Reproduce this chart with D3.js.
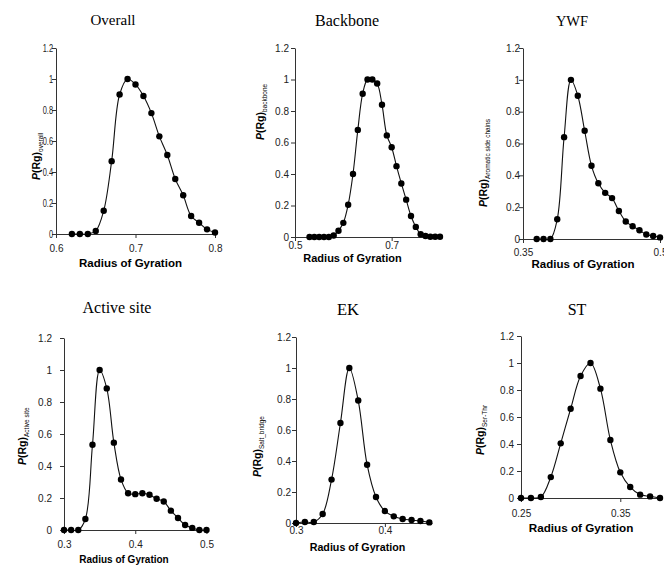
<!DOCTYPE html>
<html>
<head>
<meta charset="utf-8">
<script src="https://cdn.jsdelivr.net/npm/d3@7"></script>
<style>
  body { margin: 0; background: #fff; }
  svg { display: block; }
  .tick text { font-family: "Liberation Sans", Arial, sans-serif; font-size: 10px; fill: #222; }
  .domain, .tick line { stroke: #333; }
</style>
</head>
<body>
<script>
// --- data ---
var overallRg = [0.62,0.63,0.64,0.65,0.66,0.67,0.68,0.69,0.70,0.71,0.72,0.73,0.74,0.75,0.76,0.77,0.78,0.79,0.80];
var overallP  = [0,0,0,0.02,0.15,0.47,0.90,1.0,0.965,0.89,0.78,0.63,0.51,0.355,0.25,0.116,0.073,0.03,0.01];

var backboneRg = [0.53,0.54,0.55,0.56,0.57,0.58,0.59,0.60,0.61,0.62,0.63,0.64,0.65,0.66,0.67,0.68,0.69,0.70,0.71,0.72,0.73,0.74,0.75,0.76,0.77,0.78,0.79,0.80];
var backboneP  = [0,0,0,0,0,0.01,0.04,0.09,0.205,0.40,0.68,0.91,1.0,1.0,0.975,0.84,0.645,0.57,0.45,0.34,0.237,0.133,0.064,0.017,0.006,0.002,0.002,0.002];

var ywfRg = [0.365,0.3725,0.38,0.3875,0.395,0.4025,0.41,0.4175,0.425,0.4325,0.44,0.4475,0.455,0.4625,0.47,0.4775,0.485,0.4925,0.5];
var ywfP  = [0,0,0,0.124,0.64,1.0,0.90,0.68,0.46,0.35,0.29,0.257,0.176,0.11,0.08,0.055,0.028,0.019,0.01];

var activeRg = [0.30,0.31,0.32,0.33,0.34,0.35,0.36,0.37,0.38,0.39,0.40,0.41,0.42,0.43,0.44,0.45,0.46,0.47,0.48,0.49,0.50];
var activeP  = [0,0,0,0.069,0.533,1.0,0.885,0.546,0.316,0.23,0.224,0.23,0.22,0.195,0.178,0.121,0.075,0.031,0.013,0,0];

var ekRg = [0.30,0.31,0.32,0.33,0.34,0.35,0.36,0.37,0.38,0.39,0.40,0.41,0.42,0.43,0.44,0.45];
var ekP  = [0,0.006,0.006,0.058,0.28,0.645,1.0,0.79,0.376,0.168,0.077,0.043,0.026,0.019,0.013,0.004];

var stRg = [0.25,0.26,0.27,0.28,0.29,0.30,0.31,0.32,0.33,0.34,0.35,0.36,0.37,0.38,0.39];
var stP  = [0,0,0.007,0.155,0.405,0.661,0.904,1.0,0.81,0.43,0.19,0.081,0.025,0.012,0];

var yTicks = [0, 0.2, 0.4, 0.6, 0.8, 1, 1.2];
var yTickLabels = ["0", "0.2", "0.4", "0.6", "0.8", "1", "1.2"];

// layout per panel (the six small charts were pasted at slightly different scales)
var panels = [
  { title: "Overall",     sub: "overall",              rg: overallRg,  p: overallP,  xDom: [0.6, 0.8],   xTicks: [0.6, 0.7, 0.8],  xLab: ["0.6", "0.7", "0.8"],
    x0: 56, x1: 215, yTop: 48, yBot: 234, ygap: 3, ysq: 0.74, xoff: 18,
    tx: 113, ty: 25, tfs: 15, lx: 130.5, ly: 267, lfs: 11.5, yx: 40, yy: 180 },
  { title: "Backbone",    sub: "backbone",             rg: backboneRg, p: backboneP, xDom: [0.5, 0.8],   xTicks: [0.5, 0.7],       xLab: ["0.5", "0.7"],
    x0: 295, x1: 440, yTop: 48, yBot: 237, ygap: 6, ysq: 1, xoff: 12,
    tx: 347, ty: 26, tfs: 16, lx: 352.5, ly: 262, lfs: 11, yx: 264, yy: 140 },
  { title: "YWF",         sub: "Aromatic side chains", rg: ywfRg,      p: ywfP,      xDom: [0.35, 0.5],  xTicks: [0.35, 0.5],      xLab: ["0.35", "0.5"],
    x0: 523, x1: 660, yTop: 48, yBot: 239, ygap: 3, ysq: 1, xoff: 17,
    tx: 572, ty: 26, tfs: 14.5, lx: 583, ly: 268, lfs: 11.5, yx: 487, yy: 207 },
  { title: "Active site", sub: "Active site",          rg: activeRg,   p: activeP,   xDom: [0.3, 0.5],   xTicks: [0.3, 0.4, 0.5],  xLab: ["0.3", "0.4", "0.5"],
    x0: 64, x1: 206.5, yTop: 338, yBot: 530, ygap: 12, ysq: 1, xoff: 17.5,
    tx: 117, ty: 313, tfs: 16, lx: 124, ly: 563, lfs: 10, yx: 26, yy: 465 },
  { title: "EK",          sub: "Salt_bridge",          rg: ekRg,       p: ekP,       xDom: [0.3, 0.453], xTicks: [0.3, 0.4],       xLab: ["0.3", "0.4"],
    x0: 296, x1: 432, yTop: 337, yBot: 523, ygap: 5, ysq: 1, xoff: 11,
    tx: 348, ty: 315, tfs: 16.5, lx: 357.5, ly: 550.5, lfs: 10.7, yx: 261, yy: 477 },
  { title: "ST",          sub: "Ser-Thr",              rg: stRg,       p: stP,       xDom: [0.25, 0.392], xTicks: [0.25, 0.35],    xLab: ["0.25", "0.35"],
    x0: 521, x1: 662, yTop: 336, yBot: 498, ygap: 7, ysq: 1, xoff: 18.5,
    tx: 577, ty: 315, tfs: 16, lx: 581, ly: 532, lfs: 11.7, yx: 484, yy: 455 }
];

var svg = d3.select("body").append("svg")
  .attr("width", 664)
  .attr("height", 565);

panels.forEach(function (pn) {
  var x = d3.scaleLinear().domain(pn.xDom).range([pn.x0, pn.x1]);
  var y = d3.scaleLinear().domain([0, 1.2]).range([pn.yBot, pn.yTop]);
  var g = svg.append("g");

  g.append("g")
    .attr("transform", "translate(0," + pn.yBot + ")")
    .call(d3.axisBottom(x).tickValues(pn.xTicks).tickSize(4).tickSizeOuter(0)
      .tickFormat(function (d, i) { return pn.xLab[i]; }))
    .selectAll("text").attr("y", pn.xoff).attr("dy", 0);

  // y tick labels of the first panel are squeezed horizontally in the original
  g.append("g")
    .attr("transform", "translate(" + pn.x0 + ",0)")
    .call(d3.axisLeft(y).tickValues(yTicks).tickSize(4).tickSizeOuter(0)
      .tickFormat(function (d, i) { return yTickLabels[i]; }))
    .selectAll("text")
    .attr("x", -pn.ygap / pn.ysq)
    .attr("transform", "scale(" + pn.ysq + ",1)");

  var pts = pn.rg.map(function (v, i) { return [v, pn.p[i]]; });

  var line = d3.line()
    .x(function (d) { return x(d[0]); })
    .y(function (d) { return y(d[1]); })
    .curve(d3.curveCatmullRom.alpha(0.5));

  g.append("path")
    .datum(pts)
    .attr("d", line)
    .attr("fill", "none")
    .attr("stroke", "#111")
    .attr("stroke-width", 1.1);

  g.selectAll("circle.pt")
    .data(pts)
    .enter()
    .append("circle")
    .attr("class", "pt")
    .attr("cx", function (d) { return x(d[0]); })
    .attr("cy", function (d) { return y(d[1]); })
    .attr("r", 3.2)
    .attr("fill", "#000");

  // title
  g.append("text")
    .attr("x", pn.tx).attr("y", pn.ty)
    .attr("text-anchor", "middle")
    .style("font-family", "'Liberation Serif', 'Times New Roman', serif")
    .style("font-size", pn.tfs + "px")
    .text(pn.title);

  // x label
  g.append("text")
    .attr("x", pn.lx).attr("y", pn.ly)
    .attr("text-anchor", "middle")
    .style("font-family", "'Liberation Sans', Arial, sans-serif")
    .style("font-size", pn.lfs + "px")
    .style("font-weight", "bold")
    .text("Radius of Gyration");

  // y label, starts at the bottom
  var yl = g.append("text")
    .attr("transform", "translate(" + pn.yx + "," + pn.yy + ") rotate(-90)")
    .attr("text-anchor", "start")
    .style("font-family", "'Liberation Sans', Arial, sans-serif")
    .style("font-size", "10.5px")
    .style("font-weight", "bold");
  yl.append("tspan").style("font-style", "italic").text("P");
  yl.append("tspan").text("(Rg)");
  yl.append("tspan").attr("dy", 2.5).style("font-size", "6.5px").style("font-weight", "normal").text(pn.sub);
});
</script>
</body>
</html>
